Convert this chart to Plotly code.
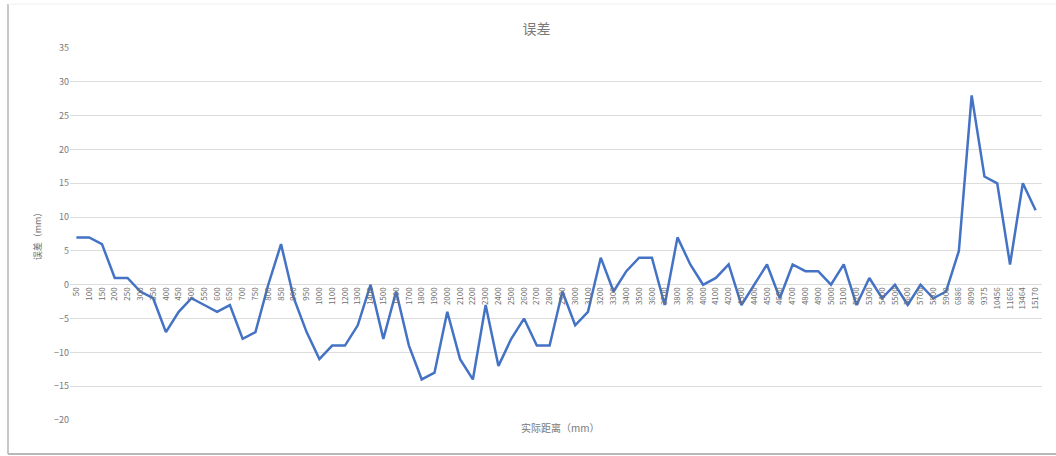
import plotly.graph_objects as go

distances = ["50", "100", "150", "200", "250", "300", "350", "400", "450", "500",
             "550", "600", "650", "700", "750", "800", "850", "900", "950", "1000",
             "1100", "1200", "1300", "1400", "1500", "1600", "1700", "1800", "1900", "2000",
             "2100", "2200", "2300", "2400", "2500", "2600", "2700", "2800", "2900", "3000",
             "3100", "3200", "3300", "3400", "3500", "3600", "3700", "3800", "3900", "4000",
             "4100", "4200", "4300", "4400", "4500", "4600", "4700", "4800", "4900", "5000",
             "5100", "5200", "5300", "5400", "5500", "5600", "5700", "5800", "5900", "6886",
             "8090", "9375", "10456", "11665", "13464", "15170"]

errors = [7, 7, 6, 1, 1, -1, -2, -7, -4, -2,
          -3, -4, -3, -8, -7, 0, 6, -2, -7, -11,
          -9, -9, -6, 0, -8, -1, -9, -14, -13, -4,
          -11, -14, -3, -12, -8, -5, -9, -9, -1, -6,
          -4, 4, -1, 2, 4, 4, -3, 7, 3, 0,
          1, 3, -3, 0, 3, -2, 3, 2, 2, 0,
          3, -3, 1, -2, 0, -3, 0, -2, -1, 5,
          28, 16, 15, 3, 15, 11]

y_ticks = [35, 30, 25, 20, 15, 10, 5, 0, -5, -10, -15, -20]

FONT = "Noto Sans CJK SC, Liberation Sans, sans-serif"
GREY = "#6e6e6e"

fig = go.Figure()
fig.add_trace(go.Scatter(
    x=distances, y=errors, mode="lines",
    line=dict(color="#4472C4", width=2.5),
    name="误差", showlegend=False,
))

ymin, ymax = -20, 35
fig.update_layout(
    width=1056, height=456,
    margin=dict(l=70, r=14, t=48, b=36),
    paper_bgcolor="white", plot_bgcolor="white",
    font=dict(family=FONT, color=GREY),
    title=dict(text="误差", x=0.508, xanchor="center", y=0.936, yanchor="middle",
               font=dict(size=14, color="#7a7a7a", family=FONT)),
    xaxis=dict(
        type="category", range=[-0.5, len(distances) - 0.5],
        anchor="free", position=(0 - ymin) / (ymax - ymin),
        showgrid=False, showline=False, zeroline=False, ticks="",
        tickangle=-90, tickfont=dict(size=8, color=GREY, family=FONT),
    ),
    yaxis=dict(
        range=[ymin, ymax], tickvals=y_ticks,
        showgrid=True, gridcolor="#dcdcdc", gridwidth=1,
        zeroline=True, zerolinecolor="#dcdcdc", zerolinewidth=1,
        showline=False, ticks="",
        tickfont=dict(size=9, color="#7a7a7a", family=FONT),
        title=dict(text="误差（mm）", font=dict(size=9, color=GREY, family=FONT), standoff=10),
    ),
    annotations=[dict(
        text="实际距离（mm）", xref="paper", yref="paper", x=0.505, y=-0.0215,
        xanchor="center", yanchor="middle", showarrow=False,
        font=dict(size=10, color="#7a7a7a", family=FONT),
    )],
    shapes=[
        dict(type="line", xref="paper", yref="paper",
             x0=-0.0638, x1=-0.0638, y0=-0.0914, y1=1.118,
             line=dict(color="#c8c8c8", width=2), layer="below"),
        dict(type="line", xref="paper", yref="paper",
             x0=-0.0638, x1=1.02, y0=-0.0914, y1=-0.0914,
             line=dict(color="#b8b8b8", width=2), layer="below"),
        dict(type="line", xref="paper", yref="paper",
             x0=-0.0638, x1=1.02, y0=1.118, y1=1.118,
             line=dict(color="#eeeeee", width=1), layer="below"),
    ],
)

fig.write_html("out.html")
